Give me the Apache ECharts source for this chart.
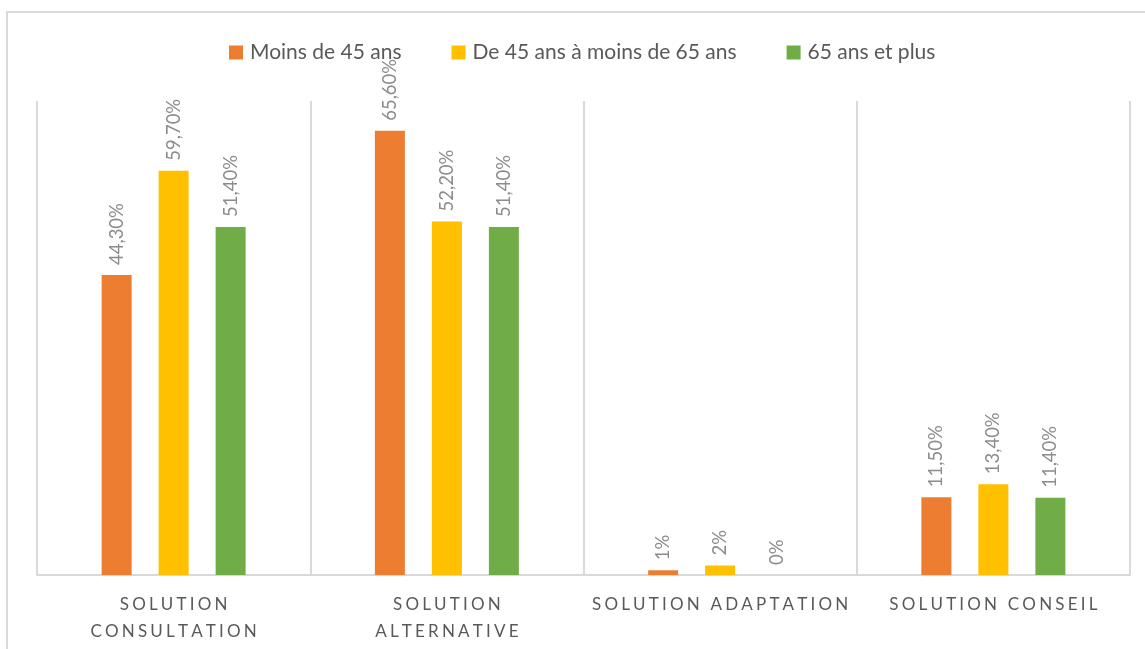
<!DOCTYPE html>
<html>
<head>
<meta charset="utf-8">
<script src="https://cdn.jsdelivr.net/npm/echarts@6/dist/echarts.min.js"></script>
<style>
html,body{margin:0;padding:0;background:#fff;}
#chart{width:1145px;height:649px;}
</style>
</head>
<body>
<div id="chart"></div>
<script>
var categories = ['SOLUTION CONSULTATION', 'SOLUTION ALTERNATIVE', 'SOLUTION ADAPTATION', 'SOLUTION CONSEIL'];
var seriesNames = ['Moins de 45 ans', 'De 45 ans à moins de 65 ans', '65 ans et plus'];
var valuesMoins45 = [44.3, 65.6, 0.7, 11.5];
var values45a65 = [59.7, 52.2, 1.4, 13.4];
var values65plus = [51.4, 51.4, 0.0, 11.4];
var labelsMoins45 = ['44,30%', '65,60%', '1%', '11,50%'];
var labels45a65 = ['59,70%', '52,20%', '2%', '13,40%'];
var labels65plus = ['51,40%', '51,40%', '0%', '11,40%'];
var colors = ['#ED7D31', '#FFC000', '#70AD47'];

var FONT = 'Lato, "Open Sans", sans-serif';

function spaced(s) {
  return s.split('').join('\u2009\u200A');
}
function catLabel(v) {
  if (v.length > 19) {
    var parts = v.split(' ');
    return spaced(parts[0]) + '\n' + spaced(parts.slice(1).join(' '));
  }
  return spaced(v);
}

function mkSeries(i, vals, labs) {
  return {
    name: seriesNames[i],
    type: 'bar',
    data: vals,
    barWidth: 30,
    barGap: '90%',
    itemStyle: { color: colors[i] },
    label: {
      show: true,
      position: 'top',
      rotate: 90,
      align: 'left',
      verticalAlign: 'middle',
      distance: 10,
      color: '#8c8c8c',
      fontSize: 18.5,
      fontFamily: FONT,
      formatter: function (p) { return labs[p.dataIndex]; }
    }
  };
}

var chart = echarts.init(document.getElementById('chart'), null, { renderer: 'canvas' });
chart.setOption({
  animation: false,
  backgroundColor: '#fff',
  graphic: [{
    type: 'rect',
    shape: { x: 7, y: 12, width: 1160, height: 700 },
    style: { fill: 'none', stroke: '#d9d9d9', lineWidth: 2 },
    silent: true,
    z: -1
  }],
  legend: {
    top: 37,
    left: 224,
    itemWidth: 14,
    itemHeight: 14,
    itemGap: 50,
    icon: 'rect',
    textStyle: { color: '#595959', fontSize: 21, fontFamily: FONT, padding: [0, 0, 0, 2] },
    data: seriesNames
  },
  grid: { left: 37, right: 15, top: 101, bottom: 74 },
  xAxis: {
    type: 'category',
    data: categories,
    axisLine: { lineStyle: { color: '#d9d9d9', width: 2 } },
    axisTick: { show: false },
    splitLine: { show: true, lineStyle: { color: '#d9d9d9', width: 2 } },
    axisLabel: {
      color: '#595959',
      fontSize: 17,
      fontFamily: FONT,
      margin: 16,
      lineHeight: 27,
      interval: 0,
      formatter: catLabel
    }
  },
  yAxis: {
    type: 'value',
    min: 0,
    max: 70,
    show: false,
    splitLine: { show: false }
  },
  series: [
    mkSeries(0, valuesMoins45, labelsMoins45),
    mkSeries(1, values45a65, labels45a65),
    mkSeries(2, values65plus, labels65plus)
  ]
});
</script>
</body>
</html>
